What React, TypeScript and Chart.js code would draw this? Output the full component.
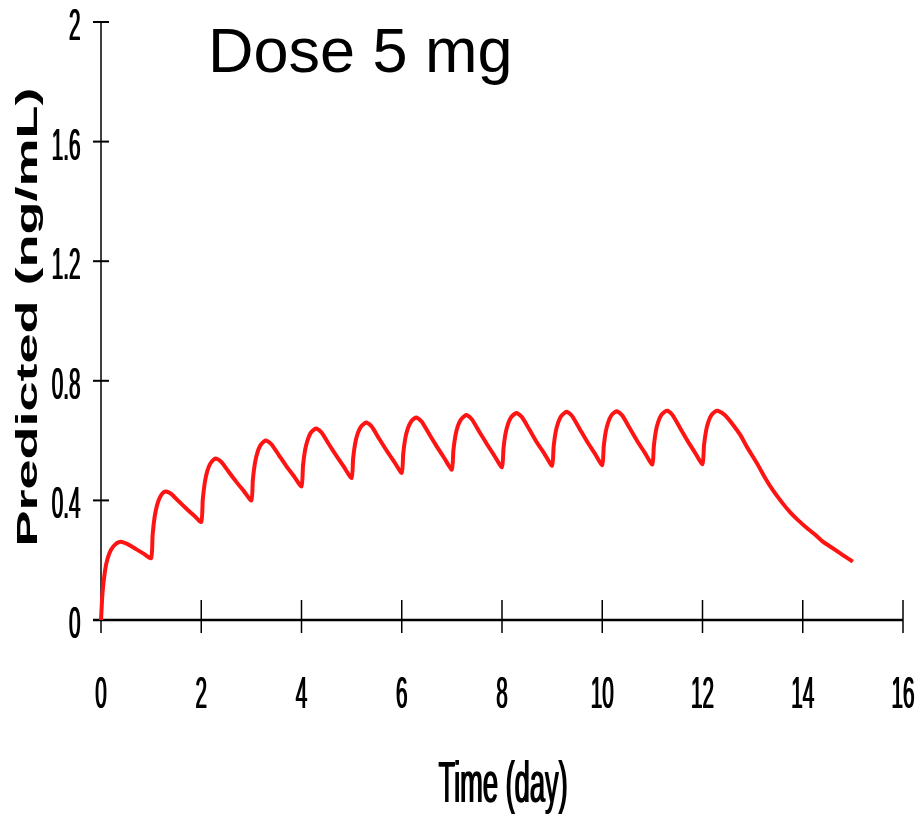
import React, { useEffect, useRef } from 'react';
import { Chart, registerables } from 'chart.js';

Chart.register(...registerables);

// Time after first dose (days)
const timeDays = [
  0, 0.03, 0.08, 0.13, 0.2, 0.3, 0.4, 0.55, 0.7, 0.85, 1.0,
  1.03, 1.07, 1.12, 1.18, 1.25, 1.3, 1.4, 1.55, 1.7, 1.85, 2.0,
  2.03, 2.07, 2.12, 2.18, 2.25, 2.3, 2.4, 2.55, 2.7, 2.85, 3.0,
  3.03, 3.07, 3.12, 3.18, 3.25, 3.3, 3.4, 3.55, 3.7, 3.85, 4.0,
  4.03, 4.07, 4.12, 4.18, 4.25, 4.3, 4.4, 4.55, 4.7, 4.85, 5.0,
  5.03, 5.07, 5.12, 5.18, 5.25, 5.3, 5.4, 5.55, 5.7, 5.85, 6.0,
  6.03, 6.07, 6.12, 6.18, 6.25, 6.3, 6.4, 6.55, 6.7, 6.85, 7.0,
  7.03, 7.07, 7.12, 7.18, 7.25, 7.3, 7.4, 7.55, 7.7, 7.85, 8.0,
  8.03, 8.07, 8.12, 8.18, 8.25, 8.3, 8.4, 8.55, 8.7, 8.85, 9.0,
  9.03, 9.07, 9.12, 9.18, 9.25, 9.3, 9.4, 9.55, 9.7, 9.85, 10.0,
  10.03, 10.07, 10.12, 10.18, 10.25, 10.3, 10.4, 10.55, 10.7, 10.85, 11.0,
  11.03, 11.07, 11.12, 11.18, 11.25, 11.3, 11.4, 11.55, 11.7, 11.85, 12.0,
  12.03, 12.07, 12.12, 12.18, 12.25, 12.3, 12.45, 12.6, 12.75, 12.9,
  13.1, 13.25, 13.4, 13.6, 13.75, 13.9, 14.1, 14.25, 14.4, 14.6, 14.8, 15.0,
];

// Predicted concentration (ng/mL)
const concentration = [
  0, 0.09, 0.165, 0.205, 0.235, 0.255, 0.262, 0.252, 0.237, 0.222, 0.207,
  0.285, 0.345, 0.385, 0.412, 0.427, 0.43, 0.422, 0.397, 0.373, 0.35, 0.328,
  0.402, 0.459, 0.498, 0.523, 0.537, 0.54, 0.529, 0.495, 0.462, 0.431, 0.4,
  0.47, 0.524, 0.56, 0.584, 0.597, 0.6, 0.588, 0.551, 0.514, 0.481, 0.447,
  0.515, 0.567, 0.601, 0.625, 0.637, 0.64, 0.627, 0.587, 0.548, 0.511, 0.475,
  0.54, 0.59, 0.623, 0.645, 0.657, 0.66, 0.647, 0.606, 0.566, 0.529, 0.492,
  0.557, 0.607, 0.64, 0.662, 0.674, 0.677, 0.663, 0.621, 0.58, 0.541, 0.503,
  0.567, 0.616, 0.649, 0.67, 0.682, 0.685, 0.671, 0.629, 0.588, 0.549, 0.511,
  0.574, 0.623, 0.656, 0.678, 0.689, 0.692, 0.678, 0.636, 0.593, 0.555, 0.516,
  0.579, 0.628, 0.66, 0.682, 0.693, 0.696, 0.682, 0.639, 0.596, 0.557, 0.518,
  0.581, 0.63, 0.662, 0.684, 0.695, 0.698, 0.684, 0.641, 0.598, 0.559, 0.52,
  0.583, 0.632, 0.664, 0.686, 0.697, 0.7, 0.686, 0.643, 0.6, 0.56, 0.521,
  0.584, 0.632, 0.664, 0.686, 0.697, 0.7, 0.685, 0.655, 0.62, 0.575,
  0.52, 0.475, 0.435, 0.39, 0.36, 0.335, 0.305, 0.285, 0.262, 0.24, 0.217, 0.195,
];

const xTickValues = [0, 2, 4, 6, 8, 10, 12, 14, 16];
const xTickLabels = ['0', '2', '4', '6', '8', '10', '12', '14', '16'];
const yTickValues = [0, 0.4, 0.8, 1.2, 1.6, 2];
const yTickLabels = ['0', '0.4', '0.8', '1.2', '1.6', '2'];

const chartTitle = 'Dose 5 mg';
const xTitle = 'Time (day)';
const yTitle = 'Predicted\u00A0(ng/mL)';

const FONT = '"Liberation Sans", Arial, Helvetica, sans-serif';

function drawScaledText(
  ctx: CanvasRenderingContext2D,
  text: string,
  x: number,
  y: number,
  sx: number,
  font: string,
  align: CanvasTextAlign,
  rotate = 0,
  thicken = 0
) {
  const passes = thicken > 0 ? [0, thicken] : [0];
  passes.forEach((dx) => {
    ctx.save();
    ctx.translate(x + dx, y);
    if (rotate) ctx.rotate(rotate);
    ctx.scale(sx, 1);
    ctx.font = font;
    ctx.textAlign = align;
    ctx.textBaseline = 'alphabetic';
    ctx.fillStyle = '#000';
    ctx.fillText(text, 0, 0);
    ctx.restore();
  });
}

const axesPlugin = {
  id: 'customAxes',
  beforeDatasetsDraw(chart: any) {
    const { ctx, scales } = chart;
    const xs = scales.x;
    const ys = scales.y;
    const x0 = xs.getPixelForValue(0);
    const x1 = xs.getPixelForValue(16);
    const y0 = ys.getPixelForValue(0);
    const y1 = ys.getPixelForValue(2);
    ctx.save();
    ctx.strokeStyle = '#000';
    ctx.lineCap = 'butt';
    // y axis
    ctx.lineWidth = 1.5;
    ctx.beginPath();
    ctx.moveTo(x0, y1);
    ctx.lineTo(x0, y0);
    ctx.stroke();
    // y ticks
    ctx.lineWidth = 2;
    yTickValues.forEach((v) => {
      const y = ys.getPixelForValue(v);
      ctx.beginPath();
      ctx.moveTo(x0 - 8, y);
      ctx.lineTo(x0 + 8, y);
      ctx.stroke();
    });
    // x axis
    ctx.lineWidth = 2.5;
    ctx.beginPath();
    ctx.moveTo(x0 - 8, y0);
    ctx.lineTo(x1, y0);
    ctx.stroke();
    // x ticks
    ctx.lineWidth = 1.5;
    xTickValues.forEach((v) => {
      const x = xs.getPixelForValue(v);
      ctx.beginPath();
      ctx.moveTo(x, y0 - 20);
      ctx.lineTo(x, y0 + 13);
      ctx.stroke();
    });
    ctx.restore();
  },
  afterDraw(chart: any) {
    const { ctx, scales, chartArea } = chart;
    const xs = scales.x;
    const ys = scales.y;
    const x0 = xs.getPixelForValue(0);
    const y0 = ys.getPixelForValue(0);

    // y tick labels
    yTickValues.forEach((v, i) => {
      const y = ys.getPixelForValue(v);
      drawScaledText(ctx, yTickLabels[i], x0 - 21, y + 18, 0.46, `45px ${FONT}`, 'right', 0, 1);
    });
    // x tick labels
    xTickValues.forEach((v, i) => {
      const x = xs.getPixelForValue(v);
      drawScaledText(ctx, xTickLabels[i], x - 0.5, y0 + 88, 0.46, `45px ${FONT}`, 'center', 0, 1);
    });
    // x title
    const cx = (chartArea.left + chartArea.right) / 2;
    drawScaledText(ctx, xTitle, cx + 0.5, y0 + 182, 0.47, `58px ${FONT}`, 'center', 0, 1.2);

    // y title (rotated, stretched along its length)
    ctx.save();
    ctx.font = `bold 30px ${FONT}`;
    const w = ctx.measureText(yTitle).width;
    ctx.restore();
    const sx = 459 / w;
    drawScaledText(ctx, yTitle, 37, 317, sx, `bold 30px ${FONT}`, 'center', -Math.PI / 2);

    // chart title
    drawScaledText(ctx, chartTitle, 208, 72, 1, `63px ${FONT}`, 'left');
  },
};

export default function App() {
  const canvasRef = useRef<HTMLCanvasElement | null>(null);

  useEffect(() => {
    const canvas = canvasRef.current;
    if (!canvas) return;
    const points = timeDays.map((t, i) => ({ x: t, y: concentration[i] }));
    const chart = new Chart(canvas, {
      type: 'line',
      data: {
        datasets: [
          {
            data: points,
            borderColor: '#ff1414',
            borderWidth: 4,
            pointRadius: 0,
            tension: 0.2,
            fill: false,
            clip: false as any,
          },
        ],
      },
      options: {
        responsive: false,
        animation: false,
        events: [],
        layout: { padding: { left: 101, right: 16, top: 22, bottom: 196 } },
        plugins: {
          legend: { display: false },
          tooltip: { enabled: false },
          title: { display: false },
        },
        scales: {
          x: { type: 'linear', min: 0, max: 16, display: false },
          y: { type: 'linear', min: 0, max: 2, display: false },
        },
      },
      plugins: [axesPlugin],
    });
    return () => chart.destroy();
  }, []);

  return (
    <div style={{ position: 'absolute', left: 0, top: 0, width: 919, height: 816, background: '#fff' }}>
      <canvas ref={canvasRef} width={919} height={816} style={{ display: 'block' }} />
    </div>
  );
}
